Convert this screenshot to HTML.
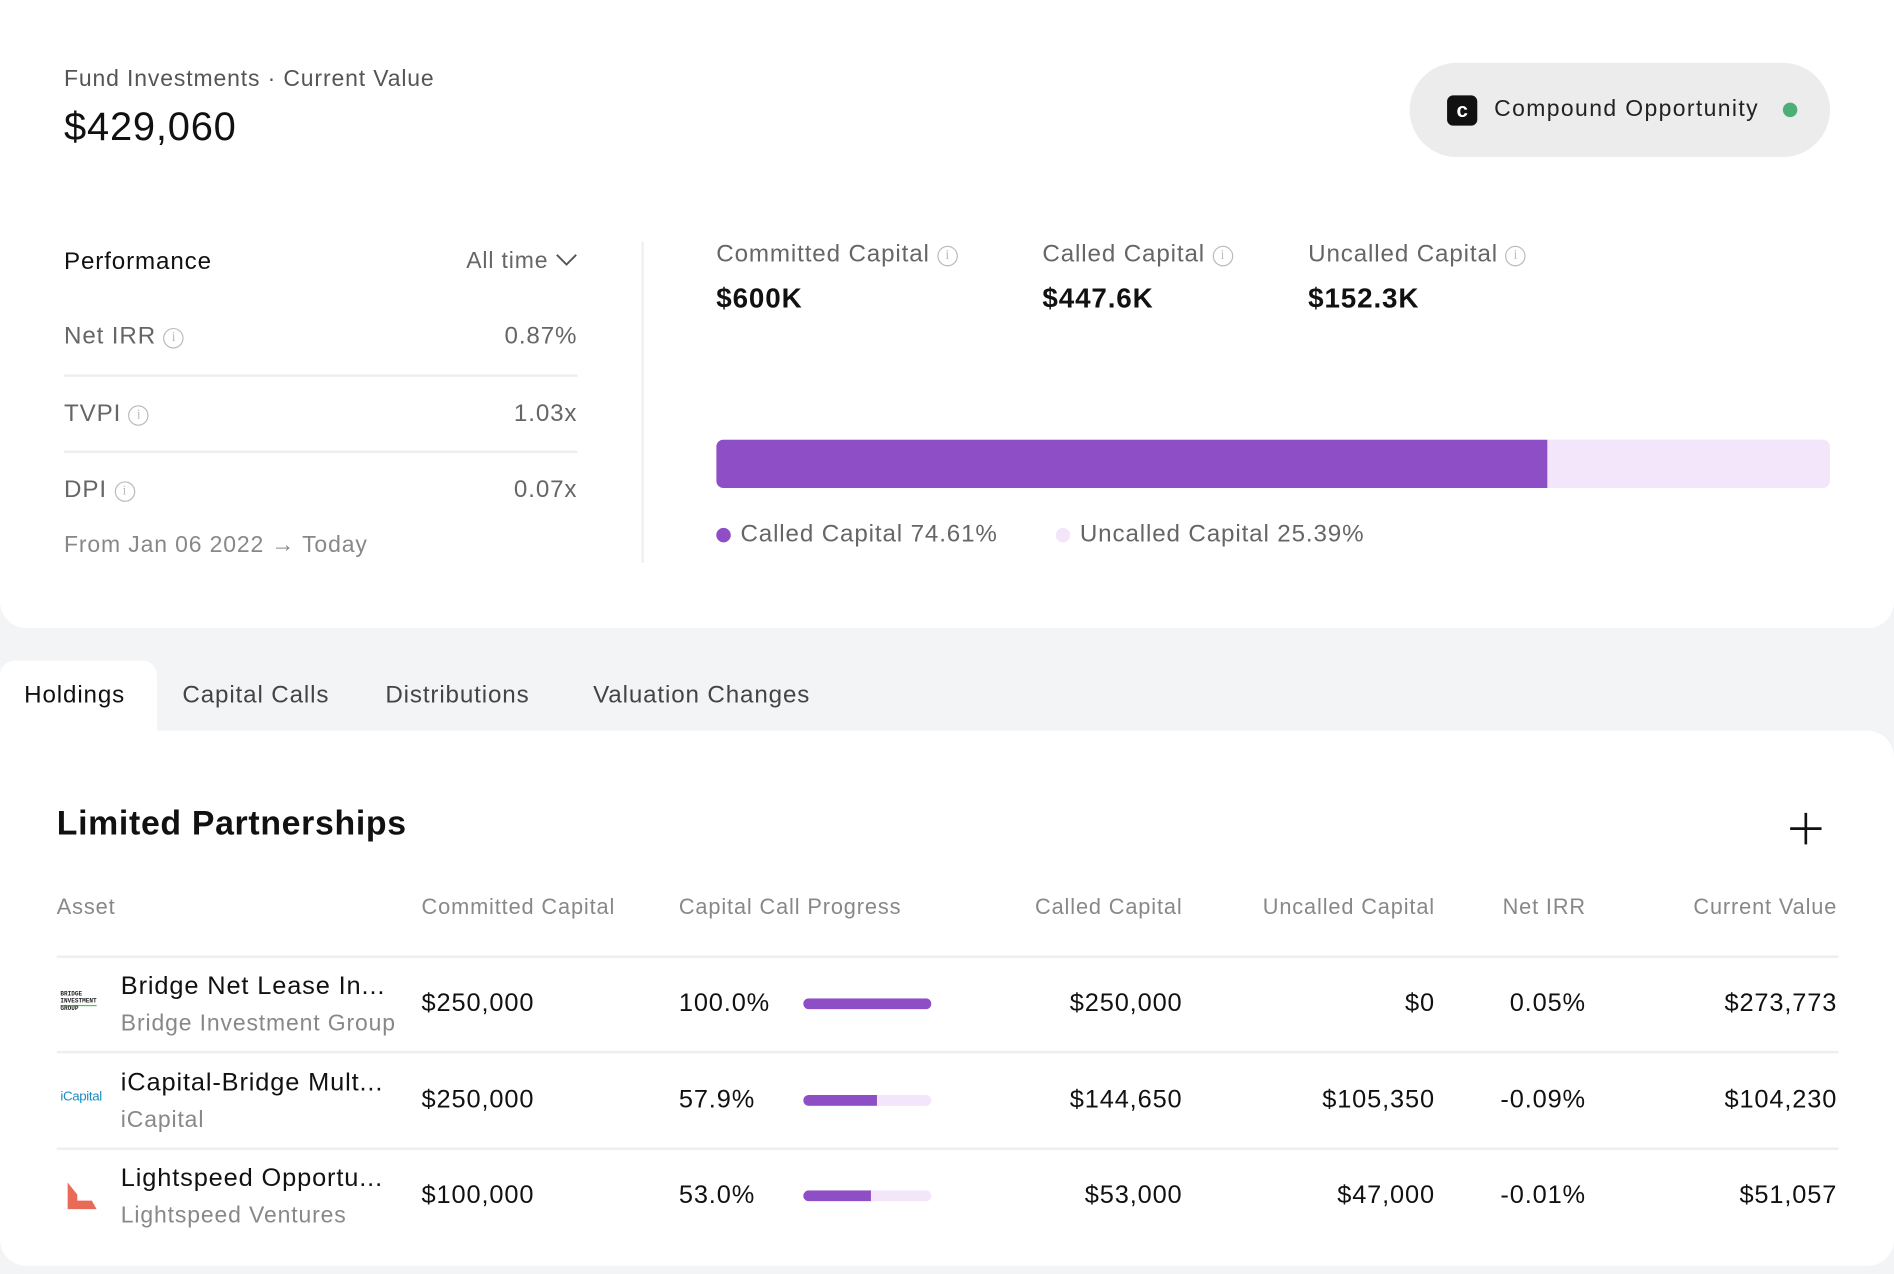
<!DOCTYPE html>
<html><head><meta charset="utf-8">
<style>
html,body{margin:0;padding:0;width:1894px;height:1274px;overflow:hidden;background:#f3f4f6;}
#root{position:absolute;left:0;top:0;width:1568px;height:1055px;transform:scale(1.20791);transform-origin:0 0;font-family:"Liberation Sans",sans-serif;color:#111;letter-spacing:0.045em;}
.abs{position:absolute;white-space:nowrap;}
.gray{color:#666;}
.info{display:inline-block;width:15px;height:15px;border:1.3px solid #bbb;border-radius:50%;font-size:11px;line-height:15px;text-align:center;color:#bbb;vertical-align:2px;margin-left:6px;font-family:"Liberation Serif",serif;letter-spacing:0;}
.r{text-align:right;}
.vc{transform:translateY(-50%);}
</style></head><body>
<div id="root">
  <div class="abs" style="left:0;top:0;width:1568px;height:520px;background:#fff;border-radius:0 0 22px 22px;"></div>
  <div class="abs vc gray" style="left:53px;top:66px;font-size:19px;color:#555;">Fund Investments · Current Value</div>
  <div class="abs vc" style="left:53px;top:105px;font-size:33px;font-weight:500;letter-spacing:0.02em;">$429,060</div>

  <div class="abs" style="left:1167px;top:52px;width:348px;height:78px;border-radius:39px;background:#ececec;">
    <div class="abs" style="left:31px;top:27px;width:25px;height:25px;border-radius:5px;background:#111;color:#fff;font-size:17px;font-weight:bold;line-height:25px;text-align:center;letter-spacing:0;">c</div>
    <div class="abs vc" style="left:70px;top:39px;font-size:19px;color:#222;letter-spacing:0.06em;">Compound Opportunity</div>
    <div class="abs" style="left:309px;top:33px;width:12px;height:12px;border-radius:50%;background:#4caf77;"></div>
  </div>

  <div class="abs vc" style="left:53px;top:217px;font-size:20px;font-weight:500;">Performance</div>
  <div class="abs vc gray" style="right:1090px;top:217px;font-size:19px;">All time <svg width="18" height="12" viewBox="0 0 18 12" style="vertical-align:1px"><path d="M1 2 L9 10 L17 2" fill="none" stroke="#555" stroke-width="1.6"/></svg></div>

  <div class="abs vc gray" style="left:53px;top:279px;font-size:20px;">Net IRR<span class="info">i</span></div>
  <div class="abs vc gray r" style="right:1090px;top:279px;font-size:20px;">0.87%</div>
  <div class="abs" style="left:53px;top:310px;width:425px;height:2px;background:#eee;"></div>
  <div class="abs vc gray" style="left:53px;top:343px;font-size:20px;">TVPI<span class="info">i</span></div>
  <div class="abs vc gray r" style="right:1090px;top:343px;font-size:20px;">1.03x</div>
  <div class="abs" style="left:53px;top:373px;width:425px;height:2px;background:#eee;"></div>
  <div class="abs vc gray" style="left:53px;top:406px;font-size:20px;">DPI<span class="info">i</span></div>
  <div class="abs vc gray r" style="right:1090px;top:406px;font-size:20px;">0.07x</div>
  <div class="abs vc" style="left:53px;top:452px;font-size:19px;color:#888;">From Jan 06 2022 → Today</div>
  <div class="abs" style="left:531px;top:200px;width:2px;height:266px;background:#f0f0f0;"></div>

  <div class="abs vc gray" style="left:593px;top:211px;font-size:20px;">Committed Capital<span class="info">i</span></div>
  <div class="abs vc" style="left:593px;top:247px;font-size:23px;font-weight:600;">$600K</div>
  <div class="abs vc gray" style="left:863px;top:211px;font-size:20px;">Called Capital<span class="info">i</span></div>
  <div class="abs vc" style="left:863px;top:247px;font-size:23px;font-weight:600;">$447.6K</div>
  <div class="abs vc gray" style="left:1083px;top:211px;font-size:20px;">Uncalled Capital<span class="info">i</span></div>
  <div class="abs vc" style="left:1083px;top:247px;font-size:23px;font-weight:600;">$152.3K</div>

  <div class="abs" id="capbar" style="left:593px;top:364px;width:922px;height:40px;border-radius:6px;background:#f3e6fa;overflow:hidden;"></div>
  <div class="abs" style="left:593px;top:437px;width:12px;height:12px;border-radius:50%;background:#8e4ec6;"></div>
  <div class="abs vc gray" id="leg1" style="left:613px;top:443px;font-size:20px;"></div>
  <div class="abs" style="left:874px;top:437px;width:12px;height:12px;border-radius:50%;background:#f3e6fa;"></div>
  <div class="abs vc gray" id="leg2" style="left:894px;top:443px;font-size:20px;"></div>

  <div class="abs" style="left:0;top:547px;width:130px;height:60px;background:#fff;border-radius:12px 12px 0 0;"></div>
  <div class="abs vc" style="left:20px;top:576px;font-size:20px;font-weight:500;">Holdings</div>
  <div class="abs vc" style="left:151px;top:576px;font-size:20px;color:#444;">Capital Calls</div>
  <div class="abs vc" style="left:319px;top:576px;font-size:20px;color:#444;">Distributions</div>
  <div class="abs vc" style="left:491px;top:576px;font-size:20px;color:#444;">Valuation Changes</div>

  <div class="abs" style="left:0;top:605px;width:1568px;height:443px;background:#fff;border-radius:0 22px 22px 22px;"></div>
  <div class="abs vc" style="left:47px;top:682px;font-size:28px;font-weight:600;letter-spacing:0.02em;">Limited Partnerships</div>
  <div class="abs" style="left:1480px;top:671px;width:30px;height:30px;">
    <svg width="30" height="30"><path d="M15 2 V28 M2 15 H28" stroke="#111" stroke-width="2.2"/></svg>
  </div>

  <div class="abs vc" style="left:47px;top:751px;font-size:18px;color:#888;">Asset</div>
  <div class="abs vc" style="left:349px;top:751px;font-size:18px;color:#888;">Committed Capital</div>
  <div class="abs vc" style="left:562px;top:751px;font-size:18px;color:#888;">Capital Call Progress</div>
  <div class="abs vc r" style="right:589px;top:751px;font-size:18px;color:#888;">Called Capital</div>
  <div class="abs vc r" style="right:380px;top:751px;font-size:18px;color:#888;">Uncalled Capital</div>
  <div class="abs vc r" style="right:255px;top:751px;font-size:18px;color:#888;">Net IRR</div>
  <div class="abs vc r" style="right:47px;top:751px;font-size:18px;color:#888;">Current Value</div>
  <div class="abs" style="left:47px;top:791px;width:1475px;height:2px;background:#eee;"></div>
  <div id="rows"></div>
</div>
<script>
const calledPct = 74.61;
const uncalledPct = 25.39;
const names = ["Bridge Net Lease In...","iCapital-Bridge Mult...","Lightspeed Opportu..."];
const managers = ["Bridge Investment Group","iCapital","Lightspeed Ventures"];
const committed = [250000,250000,100000];
const progress = [100.0,57.9,53.0];
const called = [250000,144650,53000];
const uncalled = [0,105350,47000];
const irr = [0.05,-0.09,-0.01];
const current = [273773,104230,51057];

const fmt = v => "$" + v.toLocaleString("en-US");
const bar = document.getElementById("capbar");
const fill = document.createElement("div");


fill.style.cssText = "position:absolute;left:0;top:0;height:100%;background:#8e4ec6;width:" + (calledPct/(calledPct+uncalledPct)*100) + "%";
bar.appendChild(fill);
document.getElementById("leg1").textContent = "Called Capital " + calledPct.toFixed(2) + "%";
document.getElementById("leg2").textContent = "Uncalled Capital " + uncalledPct.toFixed(2) + "%";

const rowsEl = document.getElementById("rows");
const logos = [
 '<div style="font-size:5px;line-height:6px;font-weight:bold;font-family:Liberation Mono,monospace;color:#222;margin-top:4px;letter-spacing:0">BRIDGE<br><span style="border-bottom:1px solid #4c4">INVESTMENT</span><br>GROUP</div>',
 '<div style="font-size:11px;color:#1a8ac0;font-family:Liberation Sans,sans-serif;margin-top:6px;letter-spacing:-0.3px">iCapital</div>',
 '<svg width="30" height="30" viewBox="0 0 30 30"><path d="M6 4 L14 14 L14 19 L26 19 L30 26 L6 26 Z" fill="#ea6a58"/></svg>'
];
function cell(html, css, name){
  const d = document.createElement("div");
  d.className = "abs vc";
  
  
  d.style.cssText = css;
  d.innerHTML = html;
  rowsEl.appendChild(d);
  return d;
}
for (let i = 0; i < names.length; i++) {
  const y = 831 + i * 79.5;
  cell(logos[i], "left:50px;top:" + y + "px;width:36px;height:30px;", "fund-logo");
  cell(names[i], "left:100px;top:" + (y-14) + "px;font-size:21px;", "asset-name");
  cell(managers[i], "left:100px;top:" + (y+17) + "px;font-size:19px;color:#888;", "asset-manager");
  cell(fmt(committed[i]), "left:349px;top:" + y + "px;font-size:21px;", "committed-value");
  cell(progress[i].toFixed(1) + "%", "left:562px;top:" + y + "px;font-size:21px;", "progress-value");
  const track = cell("", "left:665px;top:" + y + "px;width:106px;height:9px;border-radius:5px;background:#f3e6fa;overflow:hidden;", "progress-track");
  const f = document.createElement("div");
  
  
  f.style.cssText = "height:100%;background:#8e4ec6;border-radius:5px 0 0 5px;width:" + progress[i] + "%";
  track.appendChild(f);
  cell(fmt(called[i]), "right:589px;top:" + y + "px;font-size:21px;", "called-value");
  cell(fmt(uncalled[i]), "right:380px;top:" + y + "px;font-size:21px;", "uncalled-value");
  cell(irr[i].toFixed(2) + "%", "right:255px;top:" + y + "px;font-size:21px;", "net-irr-value");
  cell(fmt(current[i]), "right:47px;top:" + y + "px;font-size:21px;", "current-value");
  if (i < names.length - 1) {
    const dv = document.createElement("div");
    dv.className = "abs";
    
    
    dv.style.cssText = "left:47px;top:" + (y + 39) + "px;width:1475px;height:2px;background:#eee;";
    rowsEl.appendChild(dv);
  }
}
</script>
</body></html>
